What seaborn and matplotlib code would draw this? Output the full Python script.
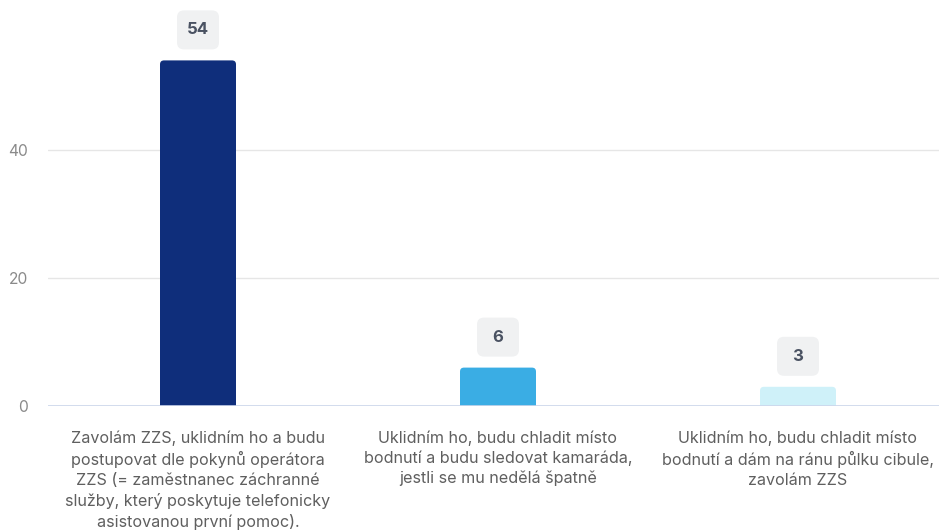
import matplotlib
matplotlib.use("Agg")
import matplotlib.pyplot as plt
from matplotlib.patches import FancyBboxPatch
import seaborn as sns
import pandas as pd

# Survey answers and how many respondents chose each
categories = [
    "Zavolám ZZS, uklidním ho a budu postupovat dle pokynů operátora ZZS (= zaměstnanec záchranné služby, který poskytuje telefonicky asistovanou první pomoc).",
    "Uklidním ho, budu chladit místo bodnutí a budu sledovat kamaráda, jestli se mu nedělá špatně",
    "Uklidním ho, budu chladit místo bodnutí a dám na ránu půlku cibule, zavolám ZZS",
]
values = [54, 6, 3]
tick_labels = [
    "Zavolám ZZS, uklidním ho a budu\npostupovat dle pokynů operátora\nZZS (= zaměstnanec záchranné\nslužby, který poskytuje telefonicky\nasistovanou první pomoc).",
    "Uklidním ho, budu chladit místo\nbodnutí a budu sledovat kamaráda,\njestli se mu nedělá špatně",
    "Uklidním ho, budu chladit místo\nbodnutí a dám na ránu půlku cibule,\nzavolám ZZS",
]
y_ticks = [0, 20, 40]
bar_colors = ["#0f2e7b", "#3aade4", "#cff1f9"]

sns.set_theme(style="white")
plt.rcParams["font.family"] = ["Inter", "DejaVu Sans"]

W, H, DPI = 939, 532, 100
fig = plt.figure(figsize=(W / DPI, H / DPI), dpi=DPI)
left, right, bottom, top = 48, 948, 406, 0
ax = fig.add_axes([left / W, (H - bottom) / H, (right - left) / W, (bottom - top) / H])

df = pd.DataFrame({"answer": categories, "count": values})
sns.barplot(data=df, x="answer", y="count", hue="answer", palette=bar_colors,
            legend=False, width=76 / 300, ax=ax, saturation=1)

ax.set_xlim(-0.5, 2.5)
ax.set_ylim(0, 406 / 6.4)
ax.set_yticks(y_ticks)
ax.set_xticks(range(len(categories)))
ax.set_xticklabels(tick_labels, fontsize=11.6, color="#5f5f5f", linespacing=1.38)
ax.tick_params(axis="x", length=0, pad=17.5)
ax.tick_params(axis="y", length=0, pad=14.5, labelsize=11.2, labelcolor="#8a8a8a")
ax.set_xlabel("")
ax.set_ylabel("")
for s in ax.spines.values():
    s.set_visible(False)
ax.grid(axis="y", color="#e6e6e6", linewidth=1)
ax.set_axisbelow(True)
ax.axhline(0, color="#ccd6eb", linewidth=1.2, zorder=3)

# Replace the square bars by bars with rounded top corners
fig.canvas.draw()
px_per_x = ax.transData.transform((1, 0))[0] - ax.transData.transform((0, 0))[0]
px_per_y = ax.transData.transform((0, 1))[1] - ax.transData.transform((0, 0))[1]
r_px = 4
for patch in list(ax.patches):
    x0, w, h = patch.get_x(), patch.get_width(), patch.get_height()
    fc = patch.get_facecolor()
    patch.set_visible(False)
    rad = r_px / px_per_x
    ext = r_px / px_per_y
    rp = FancyBboxPatch((x0 + rad, -ext * 2), w - 2 * rad, h + ext * 2 - ext,
                        boxstyle=f"round,pad={rad},rounding_size={rad}",
                        mutation_aspect=px_per_x / px_per_y,
                        facecolor=fc, edgecolor="none", zorder=2)
    ax.add_patch(rp)

# Value labels in rounded grey boxes above each bar
for i, v in enumerate(values):
    cx, ty = ax.transData.transform((i, v))
    bw, bh, gap = 42, 39, 11
    box = FancyBboxPatch((cx - bw / 2, ty + gap), bw, bh,
                         boxstyle="round,pad=0,rounding_size=7",
                         transform=None, facecolor="#f0f1f2", edgecolor="none",
                         zorder=4, clip_on=False)
    fig.patches.append(box)
    box.set_figure(fig)
    fig.text(cx / W, (ty + gap + bh / 2) / H, str(v), ha="center", va="center",
             fontsize=12, fontweight="bold", color="#4a5262", zorder=5)

fig.savefig("out.png", dpi=DPI)
